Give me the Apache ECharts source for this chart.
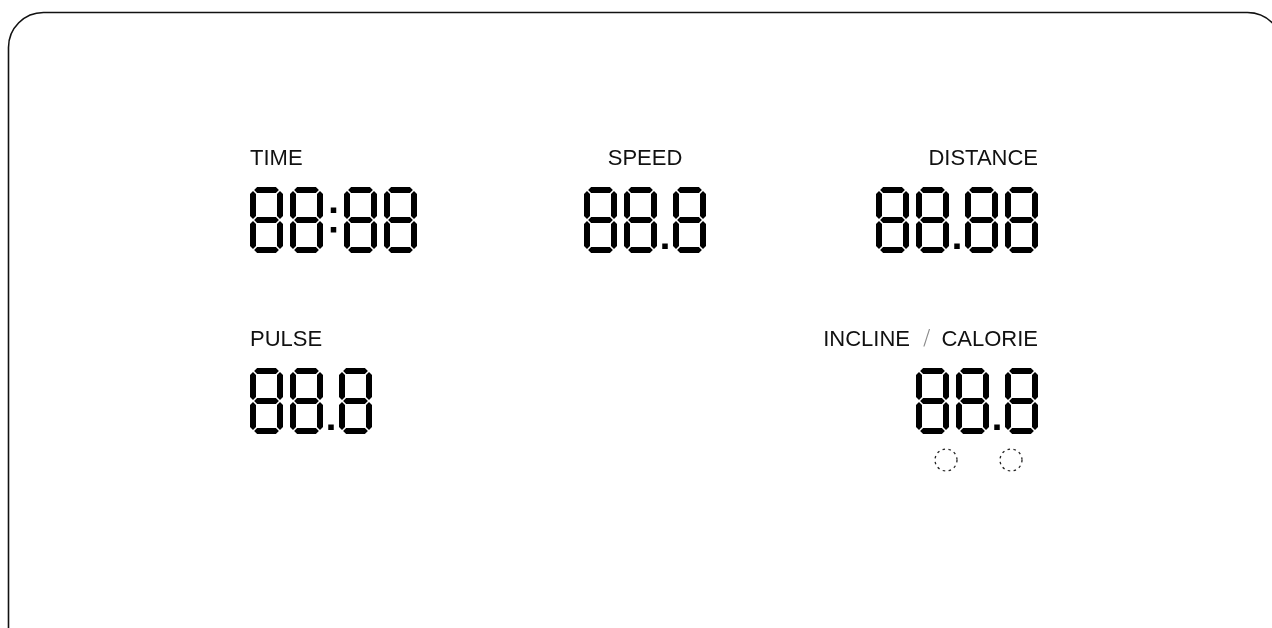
<!DOCTYPE html>
<html><head><meta charset="utf-8">
<script src="https://cdn.jsdelivr.net/npm/echarts@6/dist/echarts.min.js"></script>
<style>html,body{margin:0;padding:0;background:#fff}#c{width:1272px;height:628px}</style>
</head><body><div id="c"></div>
<script>
// ---- content ----
const panelLabels = ['TIME', 'SPEED', 'DISTANCE', 'PULSE', 'INCLINE / CALORIE'];
const panelReadouts = ['88:88', '88.8', '88.88', '88.8', '88.8'];
const panelLamps = [0, 0, 0, 0, 2];

// ---- layout (pixel space of a hidden 1:1 axis) ----
const LAYOUT = [
  {x: 250, y: 187, align: 'left'},
  {x: 645, y: 187, align: 'center'},
  {x: 1038, y: 187, align: 'right'},
  {x: 250, y: 368, align: 'left'},
  {x: 1038, y: 368, align: 'right'}
];
const DIG_W = 33, DIG_H = 66, SEG_T = 6, SEG_GAP = 1.1, DIG_GAP = 7, DOT_GAP = 16, COLON_GAP = 21;
const LABEL_DY = -28.5, LABEL_FONT = '22px "Liberation Sans", Arial, sans-serif';
const SEGMENTS = {'0':'abcdef','1':'bc','2':'abged','3':'abgcd','4':'fgbc','5':'afgcd','6':'afgedc','7':'abc','8':'abcdefg','9':'abcdfg'};

function readoutWidth(s) {
  let w = 0, prevDigit = false;
  for (const ch of s) {
    if (ch === '.' || ch === ':') { w += (ch === '.' ? DOT_GAP : COLON_GAP); prevDigit = false; }
    else { if (prevDigit) w += DIG_GAP; w += DIG_W; prevDigit = true; }
  }
  return w;
}

function digitShapes(x, y, ch) {
  const h = SEG_T / 2, L = x + h, R = x + DIG_W - h, T = y + h, M = y + DIG_H / 2, B = y + DIG_H - h, g = SEG_GAP;
  const hs = (xa, xb, cy) => [[xa, cy], [xa + h, cy - h], [xb - h, cy - h], [xb, cy], [xb - h, cy + h], [xa + h, cy + h]];
  const vs = (ya, yb, cx) => [[cx, ya], [cx + h, ya + h], [cx + h, yb - h], [cx, yb], [cx - h, yb - h], [cx - h, ya + h]];
  const segs = {
    a: hs(L + g, R - g, T), g: hs(L + g, R - g, M), d: hs(L + g, R - g, B),
    f: vs(T + g, M - g, L), b: vs(T + g, M - g, R), e: vs(M + g, B - g, L), c: vs(M + g, B - g, R)
  };
  return (SEGMENTS[ch] || '').split('').map(k => ({type: 'polygon', shape: {points: segs[k]}, style: {fill: '#000'}}));
}

function renderPanel(params, api) {
  const i = params.dataIndex;
  const p = api.coord([api.value(0), api.value(1)]);
  const lay = LAYOUT[i];
  const text = panelReadouts[i];
  const w = readoutWidth(text);
  let x0 = lay.align === 'left' ? p[0] : lay.align === 'right' ? p[0] - w : p[0] - w / 2;
  const y0 = p[1];
  const children = [];
  // label
  const lbl = panelLabels[i];
  const parts = lbl.split(' / ');
  children.push({
    type: 'text',
    style: {
      text: parts.length > 1 ? parts[0] + '{s|/}' + parts[1] : lbl,
      x: p[0], y: y0 + LABEL_DY,
      align: lay.align, verticalAlign: 'middle',
      font: LABEL_FONT, fill: '#111',
      rich: {s: {fill: '#8a8a8a', font: '200 22px "DejaVu Sans", sans-serif', padding: [0, 11, 0, 13]}}
    }
  });
  // readout
  let x = x0, prevDigit = false;
  for (const ch of text) {
    if (ch === '.') {
      children.push({type: 'rect', shape: {x: x + DOT_GAP / 2 - 2.75, y: y0 + DIG_H - 9.5, width: 5.5, height: 5.5}, style: {fill: '#000'}});
      x += DOT_GAP; prevDigit = false;
    } else if (ch === ':') {
      const cx = x + COLON_GAP / 2;
      children.push({type: 'rect', shape: {x: cx - 2.75, y: y0 + DIG_H / 2 - 12.5, width: 5.5, height: 5.5}, style: {fill: '#000'}});
      children.push({type: 'rect', shape: {x: cx - 2.75, y: y0 + DIG_H / 2 + 7, width: 5.5, height: 5.5}, style: {fill: '#000'}});
      x += COLON_GAP; prevDigit = false;
    } else {
      if (prevDigit) x += DIG_GAP;
      children.push(...digitShapes(x, y0, ch));
      x += DIG_W; prevDigit = true;
    }
  }
  // indicator lamps
  const lampXs = [x0 + 30, x0 + 95];
  for (let k = 0; k < panelLamps[i]; k++) {
    children.push({type: 'circle', shape: {cx: lampXs[k], cy: y0 + DIG_H + 26, r: 11},
      style: {fill: 'none', stroke: '#222', lineWidth: 1.3, lineDash: [2.5, 3.5]}});
  }
  return {type: 'group', children};
}

const chart = echarts.init(document.getElementById('c'), null, {renderer: 'canvas'});
chart.setOption({
  backgroundColor: '#fff',
  animation: false,
  grid: {left: 0, right: 0, top: 0, bottom: 0},
  xAxis: {type: 'value', min: 0, max: 1272, show: false},
  yAxis: {type: 'value', min: 0, max: 628, inverse: true, show: false},
  graphic: [{
    type: 'rect', silent: true,
    shape: {x: 8.5, y: 12.5, width: 1274, height: 700, r: 35},
    style: {fill: 'none', stroke: '#111', lineWidth: 1.6}
  }],
  series: [{
    type: 'custom',
    renderItem: renderPanel,
    data: LAYOUT.map(p => [p.x, p.y]),
    clip: false,
    silent: true
  }]
});
</script></body></html>
